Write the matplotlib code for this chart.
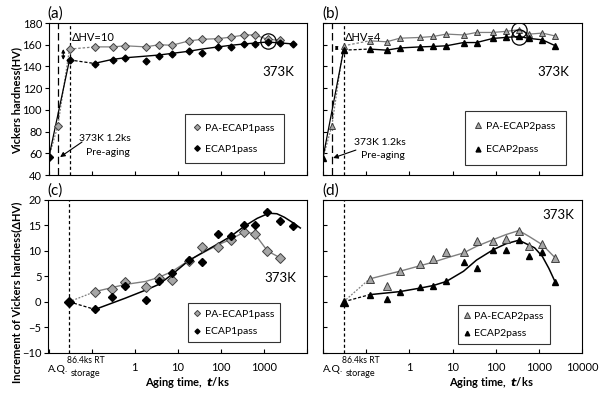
import matplotlib
matplotlib.use("Agg")
import matplotlib.pyplot as plt
from matplotlib.ticker import FixedLocator, NullLocator, FixedFormatter
import matplotlib.transforms as mtransforms

plt.rcParams['font.family'] = ['Lato', 'DejaVu Sans']
plt.rcParams['axes.linewidth'] = 0.8

# ---------------- data ----------------
aging_times = [0.12, 0.3, 0.6, 1.8, 3.6, 7.2, 18, 36, 86.4, 172.8, 345.6, 604.8, 1209.6, 2419.2, 4838.4]

# fictitious x positions for the pre-aging steps
x_aq = 0.01
x_preaged = 0.016
x_ecap = 0.03

# (a) hardness, 1 pass
a_pa_pre = [57, 85, 156]
a_pa_aging = [158, 158, 159, 158, 160, 159.5, 163.5, 165, 165.6, 167, 169, 169, 165, 164]
a_ec_pre = [57, 146]
a_ec_aging = [142.6, 146.3, 148, 145, 149.4, 151, 154, 152.7, 158, 158, 160.7, 160.7, 162.5, 161.6, 160.7]
a_ec_trend = [143, 146.5, 148, 149.5, 150.5, 152, 154, 156, 158, 159.5, 160.7, 161.5, 162.5, 161.6, 160.7]

# (b) hardness, 2 pass
b_pa_pre = [56, 85, 159]
b_pa_aging = [163.6, 162.7, 166, 166.7, 167.6, 169.8, 169, 171.3, 171.3, 172.3, 173.8, 169.8, 170.7, 168]
b_ec_pre = [56, 155]
b_ec_aging = [156, 155, 157, 158, 158.4, 159, 162, 162, 165.8, 166.7, 167.6, 165.8, 164.5, 159]

# (c) increment, 1 pass
c_pa = [2.0, 2.6, 3.8, 3.0, 4.6, 4.3, 8.1, 10.8, 10.8, 12.1, 13.7, 13.4, 10.0, 8.6]
c_ec = [-1.5, 1.0, 3.1, 0.45, 4.0, 5.7, 8.2, 7.75, 13.3, 13.0, 15.1, 15.1, 17.6, 15.8, 14.8]
c_pa_trend_t = [0.12, 0.3, 0.6, 1.8, 3.6, 7.2, 18, 36, 86.4, 172.8, 345.6, 604.8, 1209.6, 2419.2]
c_pa_trend = [2.0, 2.8, 3.4, 4.0, 4.8, 5.9, 8.1, 9.5, 11.2, 12.3, 13.7, 13.4, 10.0, 8.6]
c_ec_trend_t = [0.12, 0.6, 1.8, 3.6, 7.2, 18, 40, 86.4, 172.8, 345.6, 700, 1300, 2000, 3000, 5000, 7000]
c_ec_trend = [-1.5, 0.7, 2.3, 3.4, 5.3, 8.1, 9.8, 11.4, 12.9, 14.8, 16.4, 17.4, 17.3, 16.6, 15.4, 14.5]

# (d) increment, 2 pass
d_pa = [4.5, 3.2, 6.0, 7.4, 8.4, 9.8, 9.7, 11.9, 11.9, 12.3, 14.0, 10.9, 11.3, 8.6]
d_ec = [1.4, 0.6, 2.0, 2.9, 3.1, 4.0, 7.8, 6.6, 10.1, 10.2, 12.2, 8.9, 9.7, 3.8]
d_pa_trend_t = [0.12, 0.6, 1.8, 3.6, 7.2, 18, 36, 86.4, 172.8, 345.6, 604.8, 1209.6, 2419.2]
d_pa_trend = [4.5, 6.0, 7.1, 7.8, 8.6, 9.6, 10.9, 12.2, 13.2, 14.0, 12.8, 11.2, 8.6]
d_ec_trend_t = [0.12, 0.6, 1.8, 3.6, 7.2, 18, 36, 86.4, 172.8, 345.6, 800, 1209.6, 1700, 2419.2]
d_ec_trend = [1.4, 2.0, 2.7, 3.2, 4.0, 6.0, 8.2, 10.2, 11.4, 12.1, 10.6, 8.9, 6.6, 3.8]

xtick_vals = [0.01, 0.1, 1, 10, 100, 1000, 10000]
xtick_labels_c = ['', '', '1', '10', '100', '1000', '']
xtick_labels_d = ['', '', '1', '10', '100', '1000', '10000']
top_yticks = [40, 60, 80, 100, 120, 140, 160, 180]
bot_yticks = [-10, -5, 0, 5, 10, 15, 20]

GRAY = '#a6a6a6'
LINEGRAY = '#7f7f7f'
EDGEGRAY = '#404040'

fig = plt.figure(figsize=(6.0, 3.95), dpi=100)
W, H = 600, 395

def add_ax(l, r, t, b):
    return fig.add_axes([l / W, 1 - b / H, (r - l) / W, (b - t) / H])

axA = add_ax(49, 307, 23, 175)
axB = add_ax(323, 582, 23, 175)
axC = add_ax(48.5, 307, 200, 352.7)
axD = add_ax(323, 582, 200, 352.7)

for ax in (axA, axB, axC, axD):
    ax.set_xscale('log')
    ax.set_xlim(0.01, 10000)
    ax.xaxis.set_major_locator(FixedLocator(xtick_vals))
    ax.xaxis.set_minor_locator(NullLocator())
    ax.tick_params(axis='x', direction='in', length=3, width=0.8, labelsize=8, pad=7)
    ax.tick_params(axis='y', length=3, width=0.8, labelsize=8, pad=2)

for ax in (axA, axB):
    ax.set_ylim(40, 180)
    ax.set_yticks(top_yticks)
    ax.set_xticklabels([''] * len(xtick_vals))
for ax in (axC, axD):
    ax.set_ylim(-10, 20)
    ax.set_yticks(bot_yticks)
axB.set_yticklabels([''] * len(top_yticks))
axD.set_yticklabels([''] * len(bot_yticks))
axB.tick_params(axis='y', direction='in')
axD.tick_params(axis='y', direction='in')
axA.tick_params(axis='y', direction='out')
axC.tick_params(axis='y', direction='out')
axC.xaxis.set_major_formatter(FixedFormatter(xtick_labels_c))
axD.xaxis.set_major_formatter(FixedFormatter(xtick_labels_d))

t14 = aging_times[:14]

def make_legend(ax, handles, anchor, pad, spacing, mscale):
    leg = ax.legend(handles=handles, loc='upper left', bbox_to_anchor=anchor, fontsize=7.5,
                    frameon=True, fancybox=False, edgecolor='black', borderpad=pad,
                    labelspacing=spacing, handlelength=0.6, handletextpad=0.4,
                    borderaxespad=0, markerscale=mscale)
    leg.get_frame().set_linewidth(0.8)
    return leg

def top_panel(ax, pa_pre, pa_aging, ec_pre, ec_aging, ec_trend, marker, pa_label, ec_label, ms_pa, ms_ec):
    ax.axvline(x_preaged, color='black', lw=0.9, ls=(0, (6, 3)))
    ax.axvline(x_ecap, color='black', lw=0.9, ls=(0, (2.5, 2)))
    ax.plot([x_aq, x_preaged, x_ecap], pa_pre, color=LINEGRAY, lw=0.9, ls=(0, (1.5, 1.2)), zorder=2)
    ax.plot([x_aq, x_ecap], ec_pre, color='black', lw=0.9, zorder=2)
    ax.plot([x_ecap, t14[0]], [pa_pre[-1], pa_aging[0]], color=LINEGRAY, lw=0.9, ls=(0, (2, 1.5)))
    ax.plot([x_ecap, aging_times[0]], [ec_pre[-1], ec_aging[0]], color='black', lw=0.9, ls=(0, (2.5, 1.5)))
    ax.plot(t14[:len(pa_aging)], pa_aging, color=LINEGRAY, lw=0.9)
    ax.plot(aging_times[:len(ec_trend)], ec_trend, color='black', lw=1.0)
    hpa, = ax.plot([x_preaged, x_ecap] + t14[:len(pa_aging)], pa_pre[1:] + pa_aging, ls='none',
                   marker=marker, ms=ms_pa, mfc=GRAY, mec=EDGEGRAY, mew=0.7, label=pa_label, zorder=4)
    hec, = ax.plot([x_ecap] + aging_times[:len(ec_aging)], ec_pre[1:] + ec_aging, ls='none',
                   marker=marker, ms=ms_ec, mfc='black', mec='black', label=ec_label, zorder=5)
    ax.plot([x_aq], [ec_pre[0]], ls='none', marker=marker, ms=ms_ec + 0.5, mfc='black', mec='black', zorder=5)
    return hpa, hec

# ---------- (a) ----------
hpa, hec = top_panel(axA, a_pa_pre, a_pa_aging, a_ec_pre, a_ec_aging, a_ec_trend, 'D',
                     'PA-ECAP1pass', 'ECAP1pass', 4.0, 3.5)
axA.plot([aging_times[12]], [(a_pa_aging[12] + a_ec_aging[12]) / 2], ls='none', marker='o', ms=11,
         mfc='none', mec='black', mew=0.9, zorder=6)
axA.annotate('', xy=(0.0215, a_pa_pre[-1]), xytext=(0.0215, a_ec_pre[-1]),
             arrowprops=dict(arrowstyle='<|-|>', color='black', lw=0.8, mutation_scale=5, shrinkA=0, shrinkB=0))
axA.text(0.09, 0.905, 'ΔHV=10', transform=axA.transAxes, fontsize=8, va='center', ha='left')
axA.text(0.89, 0.68, '373K', transform=axA.transAxes, fontsize=9.5, ha='center', va='center')
axA.text(0.217, 0.237, '373K 1.2ks', transform=axA.transAxes, fontsize=7.5, ha='center', va='center')
axA.text(0.229, 0.151, 'Pre-aging', transform=axA.transAxes, fontsize=7.5, ha='center', va='center')
axA.annotate('', xy=(0.043, 0.118), xytext=(0.128, 0.217), xycoords='axes fraction',
             arrowprops=dict(arrowstyle='-|>', color='black', lw=0.8, mutation_scale=7, shrinkA=0, shrinkB=0))
make_legend(axA, [hpa, hec], (0.527, 0.40), 0.9, 1.1, 0.8)

# ---------- (b) ----------
hpb, heb = top_panel(axB, b_pa_pre, b_pa_aging, b_ec_pre, b_ec_aging, b_ec_aging, '^',
                     'PA-ECAP2pass', 'ECAP2pass', 4.8, 4.4)
axB.plot([aging_times[10]], [b_pa_aging[10]], ls='none', marker='o', ms=11,
         mfc='none', mec='black', mew=0.9, zorder=6)
axB.plot([aging_times[10]], [b_ec_aging[10] - 0.5], ls='none', marker='o', ms=11,
         mfc='none', mec='black', mew=0.9, zorder=6)
axB.annotate('', xy=(0.0208, b_pa_pre[-1]), xytext=(0.0208, b_ec_pre[-1]),
             arrowprops=dict(arrowstyle='<|-|>', color='black', lw=0.8, mutation_scale=4, shrinkA=0, shrinkB=0))
axB.text(0.085, 0.905, 'ΔHV=4', transform=axB.transAxes, fontsize=8, va='center', ha='left')
axB.text(0.888, 0.68, '373K', transform=axB.transAxes, fontsize=9.5, ha='center', va='center')
axB.text(0.22, 0.215, '373K 1.2ks', transform=axB.transAxes, fontsize=7.5, ha='center', va='center')
axB.text(0.232, 0.128, 'Pre-aging', transform=axB.transAxes, fontsize=7.5, ha='center', va='center')
axB.annotate('', xy=(0.039, 0.112), xytext=(0.127, 0.164), xycoords='axes fraction',
             arrowprops=dict(arrowstyle='-|>', color='black', lw=0.8, mutation_scale=7, shrinkA=0, shrinkB=0))
make_legend(axB, [hpb, heb], (0.548, 0.42), 1.0, 1.35, 0.8)

# ---------- bottom panels ----------
def bottom_panel(ax, pa, ec, pa_tt, pa_tr, ec_tt, ec_tr, marker, pa_label, ec_label, ms_pa, ms_ec):
    ax.axvline(x_ecap, color='black', lw=0.9, ls=(0, (2.5, 2)))
    ax.plot([x_ecap, pa_tt[0]], [0, pa_tr[0]], color=LINEGRAY, lw=0.9, ls=(0, (1.5, 1.2)))
    ax.plot([x_ecap, ec_tt[0]], [0, ec_tr[0]], color='black', lw=0.9, ls=(0, (2.5, 1.5)))
    ax.plot(pa_tt, pa_tr, color=LINEGRAY, lw=1.0)
    ax.plot(ec_tt, ec_tr, color='black', lw=1.1)
    hp, = ax.plot(aging_times[:len(pa)], pa, ls='none', marker=marker, ms=ms_pa, mfc=GRAY,
                  mec=EDGEGRAY, mew=0.7, label=pa_label, zorder=4)
    he, = ax.plot(aging_times[:len(ec)], ec, ls='none', marker=marker, ms=ms_ec, mfc='black',
                  mec='black', label=ec_label, zorder=5)
    ax.plot([x_ecap], [0], ls='none', marker=marker, ms=ms_ec + 0.5, mfc='black', mec='black', zorder=5)
    trans = mtransforms.blended_transform_factory(ax.transData, ax.transAxes)
    ax.text(0.029, -0.107, 'A.Q.', transform=trans, fontsize=7.5, ha='right', va='center')
    ax.text(0.027, -0.052, '86.4ks RT', transform=trans, fontsize=6.2, ha='left', va='center')
    ax.text(0.033, -0.135, 'storage', transform=trans, fontsize=6.6, ha='left', va='center')
    return hp, he

hpc, hec2 = bottom_panel(axC, c_pa, c_ec, c_pa_trend_t, c_pa_trend, c_ec_trend_t, c_ec_trend, 'D',
                         'PA-ECAP1pass', 'ECAP1pass', 5.2, 4.2)
axC.text(0.896, 0.49, '373K', transform=axC.transAxes, fontsize=9.5, ha='center', va='center')
make_legend(axC, [hpc, hec2], (0.54, 0.325), 0.6, 0.8, 0.6)

hpd, hed = bottom_panel(axD, d_pa, d_ec, d_pa_trend_t, d_pa_trend, d_ec_trend_t, d_ec_trend, '^',
                        'PA-ECAP2pass', 'ECAP2pass', 5.6, 5.0)
axD.text(0.907, 0.90, '373K', transform=axD.transAxes, fontsize=9.5, ha='center', va='center')
make_legend(axD, [hpd, hed], (0.52, 0.312), 0.6, 0.8, 0.65)

# panel letters
fig.text(47 / W, 1 - 21 / H, '(a)', fontsize=11, ha='left', va='bottom')
fig.text(322 / W, 1 - 21 / H, '(b)', fontsize=11, ha='left', va='bottom')
fig.text(47 / W, 1 - 198 / H, '(c)', fontsize=11, ha='left', va='bottom')
fig.text(322 / W, 1 - 198 / H, '(d)', fontsize=11, ha='left', va='bottom')

# axis labels
fig.text(17 / W, 1 - 100 / H, 'Vickers hardness(HV)', rotation=90, fontsize=8, fontweight='bold',
         ha='center', va='center')
fig.text(17 / W, 1 - 292 / H, 'Increment of Vickers hardness(ΔHV)', rotation=90, fontsize=8,
         fontweight='bold', ha='center', va='center')
fig.text(187 / W, 1 - 383 / H, 'Aging time,  $\\boldsymbol{t}$/ks', fontsize=8, fontweight='bold',
         ha='center', va='center')
fig.text(491 / W, 1 - 383 / H, 'Aging time,  $\\boldsymbol{t}$/ks', fontsize=8, fontweight='bold',
         ha='center', va='center')

fig.savefig('out.png', dpi=100)
